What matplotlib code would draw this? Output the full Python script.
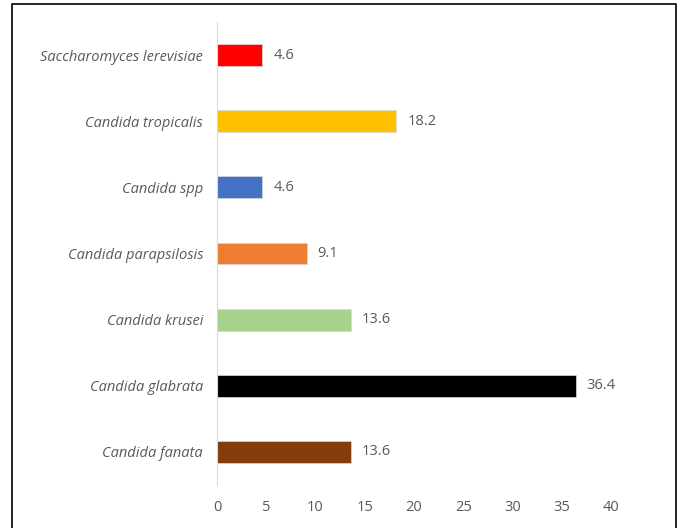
import matplotlib.pyplot as plt
from matplotlib.patches import Rectangle

species = ["Candida fanata", "Candida glabrata", "Candida krusei", "Candida parapsilosis",
           "Candida spp", "Candida tropicalis", "Saccharomyces lerevisiae"]
values = [13.6, 36.4, 13.6, 9.1, 4.6, 18.2, 4.6]
colors = ["#843C0C", "#000000", "#A9D18E", "#ED7D31", "#4472C4", "#FFC000", "#FF0000"]
xticks = [0, 5, 10, 15, 20, 25, 30, 35, 40]

plt.rcParams['font.family'] = ['Open Sans', 'DejaVu Sans']
txt = "#595959"

fig = plt.figure(figsize=(6.8, 5.28), dpi=100)
ax = fig.add_axes([217 / 680, 43 / 528, 394 / 680, 463 / 528])

y = list(range(len(species)))
ax.barh(y, values, height=0.33, color=colors, edgecolor="#D9D9D9", linewidth=0.5)
for yi, v in zip(y, values):
    ax.annotate(f"{v}", (v, yi), xytext=(8, 0), textcoords="offset points",
                va="center", ha="left", fontsize=10.5, color=txt)

ax.set_xlim(0, 40)
ax.set_ylim(-0.5, len(species) - 0.5)
ax.set_xticks(xticks)
ax.set_yticks(y)
ax.set_yticklabels(species, fontstyle="italic")
ax.tick_params(axis="both", length=0, labelsize=10.5, labelcolor=txt)
ax.tick_params(axis="y", pad=10)
ax.tick_params(axis="x", pad=11)
for s in ["top", "right", "bottom"]:
    ax.spines[s].set_visible(False)
ax.spines["left"].set_color("#D9D9D9")

# outer frame, bottom edge falls outside the image
fig.patches.append(Rectangle((12 / 680, -0.05), 664 / 680, 1.05 - 4 / 528,
                             transform=fig.transFigure, fill=False,
                             edgecolor="black", linewidth=1.2))

fig.savefig("out.png", dpi=100)
